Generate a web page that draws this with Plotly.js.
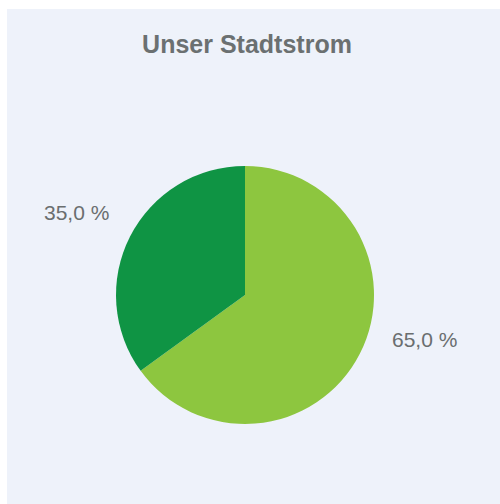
<!DOCTYPE html>
<html>
<head>
<meta charset="utf-8">
<script src="https://cdn.plot.ly/plotly-3.0.1.min.js"></script>
<style>
html,body{margin:0;padding:0;background:#ffffff;width:500px;height:504px;overflow:hidden;}
#chart{position:absolute;left:7px;top:9px;width:493px;height:495px;}
</style>
</head>
<body>
<div id="chart"></div>
<script>
// Data
const categories = ["Ökostrom", "Sonstige"];
const shares = [65.0, 35.0];
const sliceColors = ["#8dc63f", "#0f9444"];
const chartTitle = "Unser Stadtstrom";

function fmt(v){ return v.toFixed(1).replace(".", ",") + " %"; }

const W = 493, H = 495;
const cx = 238, cy = 286, r = 129;

const trace = {
  type: "pie",
  labels: categories,
  values: shares,
  sort: false,
  direction: "clockwise",
  rotation: 0,
  marker: {colors: sliceColors, line: {width: 0}},
  textinfo: "none",
  hoverinfo: "label+percent",
  showlegend: false,
  domain: {x: [(cx - r) / W, (cx + r) / W], y: [(H - cy - r) / H, (H - cy + r) / H]}
};

// label placements (paper coordinates)
const labelPos = [
  {x: (383) / W, y: 1 - 330 / H, xanchor: "left"},
  {x: (104) / W, y: 1 - 203 / H, xanchor: "right"}
];

const annotations = shares.map((v, i) => ({
  text: fmt(v),
  xref: "paper", yref: "paper",
  x: labelPos[i].x, y: labelPos[i].y,
  xanchor: labelPos[i].xanchor, yanchor: "middle",
  showarrow: false,
  font: {family: "Liberation Sans, Arial, sans-serif", size: 21, color: "#6a6e6f"}
}));

const layout = {
  width: W, height: H,
  margin: {l: 0, r: 0, t: 0, b: 0},
  paper_bgcolor: "#eef2fa",
  plot_bgcolor: "#eef2fa",
  title: {
    text: "<b>" + chartTitle + "</b>",
    x: 240 / W, xanchor: "center",
    y: 1 - 35 / H, yanchor: "middle",
    font: {family: "Liberation Sans, Arial, sans-serif", size: 25, color: "#6b7071"}
  },
  annotations: annotations
};

Plotly.newPlot("chart", [trace], layout, {displayModeBar: false, staticPlot: true});
</script>
</body>
</html>
